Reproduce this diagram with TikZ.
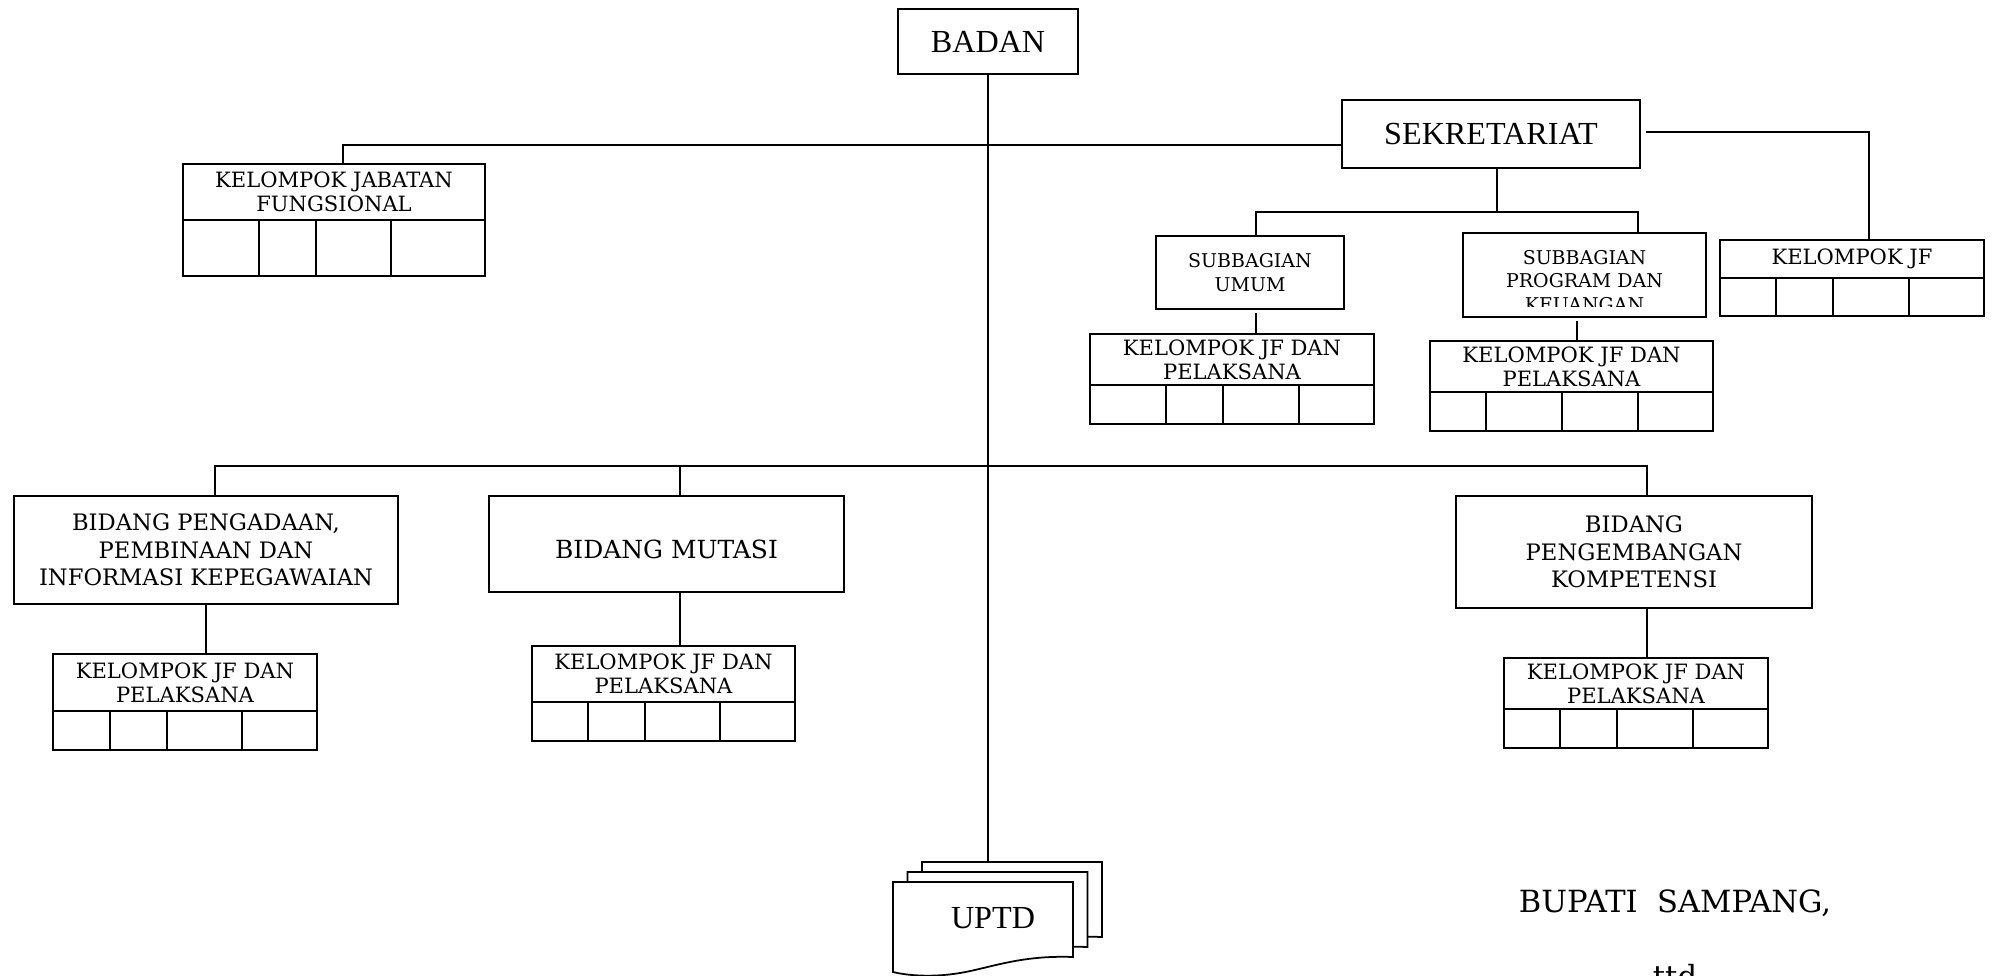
\documentclass[tikz,border=0pt]{standalone}
\usepackage{fontspec}
\setmainfont{DejaVu Serif}
\newfontfamily\timesfont{Liberation Serif}
\newcommand{\pxu}{0.02cm}
\newcommand{\jffont}{\fontsize{12}{13.6}\selectfont}
% kotak unit: nama, gaya, x1, y1, x2, y2, teks
\newcommand{\orgbox}[7]{%
  \node[box, #2, minimum width={(#5-#3)*\pxu}, minimum height={(#6-#4)*\pxu}] (#1) at ({(#3+#5)/2},{(#4+#6)/2}) {#7};}
% kotak kelompok jabatan: nama, x1, y1, x2, y2, garis tengah, kolom, teks
\newcommand{\jfbox}[8]{%
  \node[jftitle, minimum width={(#4-#2)*\pxu}, minimum height={(#6-#3)*\pxu}] (#1) at ({(#2+#4)/2},{(#3+#6)/2}) {#8};
  \draw[jfline] (#1.south west) rectangle (#4,#5);
  \foreach \c in {#7} {\draw[jfline] (\c,#6) -- (\c,#5);}}
\begin{document}
\begin{tikzpicture}[x=0.02cm, y=-0.02cm,
    box/.style={draw, line width=1.1pt, inner sep=0pt, outer sep=0pt, align=center},
    jftitle/.style={draw, line width=0.8pt, inner sep=0pt, outer sep=0pt, align=center, font=\jffont},
    jfline/.style={line width=0.8pt},
    link/.style={line width=1.3pt},
    sheet/.style={draw, fill=white, line width=1pt},
    bigtxt/.style={font=\timesfont\fontsize{18.3}{21}\selectfont},
    bidtxt/.style={font=\fontsize{12.9}{15.6}\selectfont},
    mutasitxt/.style={font=\fontsize{14.2}{16}\selectfont, text height=17pt, text depth=0pt},
    subtxt/.style={font=\fontsize{10.8}{13.4}\selectfont},
    signtxt/.style={font=\fontsize{17.4}{20}\selectfont}]

    \clip (0,0) rectangle (1993,976);

    % pimpinan dan sekretariat
    \orgbox{badan}{bigtxt}{898}{9}{1078}{74}{BADAN}
    \orgbox{sekretariat}{bigtxt}{1342}{100}{1640}{168}{SEKRETARIAT}
    \orgbox{umum}{subtxt}{1156}{236}{1344}{309}{SUBBAGIAN\\UMUM}
    \orgbox{program}{subtxt}{1463}{233}{1706}{317}{}
    \begin{scope}
        \clip (1463,233) rectangle (1706,307);
        \node[subtxt, align=center] (programtxt) at (1584.5,281) {SUBBAGIAN\\PROGRAM DAN\\KEUANGAN};
    \end{scope}

    % bidang
    \orgbox{pengadaan}{bidtxt}{14}{496}{398}{604}{BIDANG PENGADAAN,\\PEMBINAAN DAN\\INFORMASI KEPEGAWAIAN}
    \orgbox{mutasi}{mutasitxt}{489}{496}{844}{592}{BIDANG MUTASI}
    \orgbox{pengembangan}{bidtxt}{1456}{496}{1812}{608}{BIDANG\\PENGEMBANGAN\\KOMPETENSI}

    % kelompok jabatan fungsional
    \jfbox{kjabatan}{183}{164}{485}{276}{220}{259,316,391}{KELOMPOK JABATAN\\FUNGSIONAL}
    \jfbox{kjf}{1720}{240}{1984}{316}{278}{1776,1833,1909}{KELOMPOK JF}
    \jfbox{kjfumum}{1090}{334}{1374}{424}{385}{1166,1223,1299}{KELOMPOK JF DAN\\PELAKSANA}
    \jfbox{kjfprog}{1430}{341}{1713}{431}{392}{1486,1562,1638}{KELOMPOK JF DAN\\PELAKSANA}
    \jfbox{kjfpeng}{53}{654}{317}{750}{711}{110,167,242}{KELOMPOK JF DAN\\PELAKSANA}
    \jfbox{kjfmut}{532}{646}{795}{741}{702}{588,645,720}{KELOMPOK JF DAN\\PELAKSANA}
    \jfbox{kjfkom}{1504}{658}{1768}{748}{709}{1560,1617,1693}{KELOMPOK JF DAN\\PELAKSANA}

    % UPTD
    \foreach \s in {2,1,0}
    {
        \draw[sheet, shift={(\s*14.5,-\s*10)}] (893,882) -- (1073,882) -- (1073,957)
            .. controls (1020,955) and (990,968) .. (960,973)
            .. controls (930,978) and (905,975) .. (893,972) -- cycle;
    }
    \node[bigtxt] (uptd) at (993,918) {UPTD};
    \coordinate (uptdtop) at (988,862);

    % garis komando
    \coordinate (t1) at (343,145);
    \coordinate (t2) at (1869,132);
    \coordinate (s1) at (1497,212);
    \coordinate (s2) at (1256,212);
    \coordinate (s3) at (1638,212);
    \coordinate (s4) at (1577,330);
    \coordinate (b1) at (215,466);
    \coordinate (b2) at (1647,466);
    \coordinate (b3) at (680,466);

    \draw[link] (badan) -- (uptdtop);
    \draw[link] (kjabatan.north -| t1) -- (t1) -- (sekretariat.west |- t1);
    \draw[link, shorten <=6*\pxu] (sekretariat.east |- t2) -- (t2) -- (kjf.north -| t2);
    \draw[link] (sekretariat.south -| s1) -- (s1);
    \draw[link, line width=1.6pt] (umum.north -| s2) -- (s2) -- (s3) -- (program.north -| s3);
    \draw[link, shorten <=4*\pxu] (umum.south -| s2) -- (kjfumum.north -| s2);
    \draw[link, shorten <=4*\pxu] (program.south -| s4) -- (kjfprog.north -| s4);

    \draw[link] (pengadaan.north -| b1) -- (b1) -- (b2) -- (pengembangan.north -| b2);
    \draw[link] (b3) -- (mutasi.north -| b3);
    \draw[link] (pengadaan.south) -- (pengadaan.south |- kjfpeng.north);
    \draw[link] (mutasi.south -| b3) -- (kjfmut.north -| b3);
    \draw[link] (pengembangan.south -| b2) -- (kjfkom.north -| b2);

    % tanda tangan
    \node[signtxt, anchor=base, inner sep=0pt] (bupati) at (1675,912) {BUPATI~~SAMPANG,};
    \node[signtxt, anchor=north, inner sep=0pt] (ttd) at (1675,964) {ttd};

\end{tikzpicture}
\end{document}
